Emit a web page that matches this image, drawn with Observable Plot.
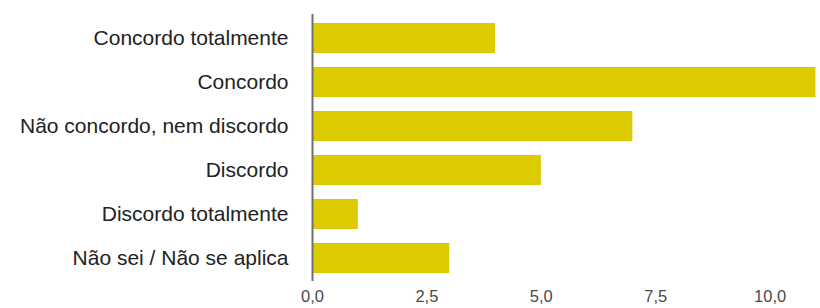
<!DOCTYPE html>
<html>
<head>
<meta charset="utf-8">
<script src="https://cdn.jsdelivr.net/npm/d3@7"></script>
<script src="https://cdn.jsdelivr.net/npm/@observablehq/plot@0.6"></script>
<style>
  html, body { margin: 0; padding: 0; background: #fff; overflow: hidden; }
  #chart svg { display: block; font-family: "Liberation Sans", Arial, sans-serif; }
</style>
</head>
<body>
<div id="chart"></div>
<script>
const categories = [
  "Concordo totalmente",
  "Concordo",
  "Não concordo, nem discordo",
  "Discordo",
  "Discordo totalmente",
  "Não sei / Não se aplica"
];
const counts = [4, 11, 7, 5, 1, 3];
const xTicks = [0, 2.5, 5, 7.5, 10];

const data = categories.map((c, i) => ({category: c, value: counts[i]}));
const fmt = d => d.toFixed(1).replace(".", ",");

const chart = Plot.plot({
  width: 820,
  height: 308,
  marginLeft: 312,
  marginRight: 0,
  marginTop: 14,
  marginBottom: 27,
  style: {fontFamily: "'Liberation Sans', Arial, sans-serif", background: "#fff"},
  x: {domain: [0, 11.1], ticks: xTicks, tickFormat: fmt},
  y: {domain: categories, paddingInner: 0.32, paddingOuter: 0.16},
  marks: [
    Plot.barX(data, {x: "value", y: "category", fill: "#dccb00"}),
    Plot.ruleX([0], {stroke: "#6f6f6f", strokeWidth: 2}),
    Plot.axisX({ticks: xTicks, tickFormat: fmt, tickSize: 0, tickPadding: 9, fontSize: 16.5, fill: "#4a4a4a", label: null}),
    Plot.axisY({tickSize: 0, tickPadding: 24, fontSize: 21, fill: "#222", label: null})
  ]
});
document.getElementById("chart").appendChild(chart);
</script>
</body>
</html>
